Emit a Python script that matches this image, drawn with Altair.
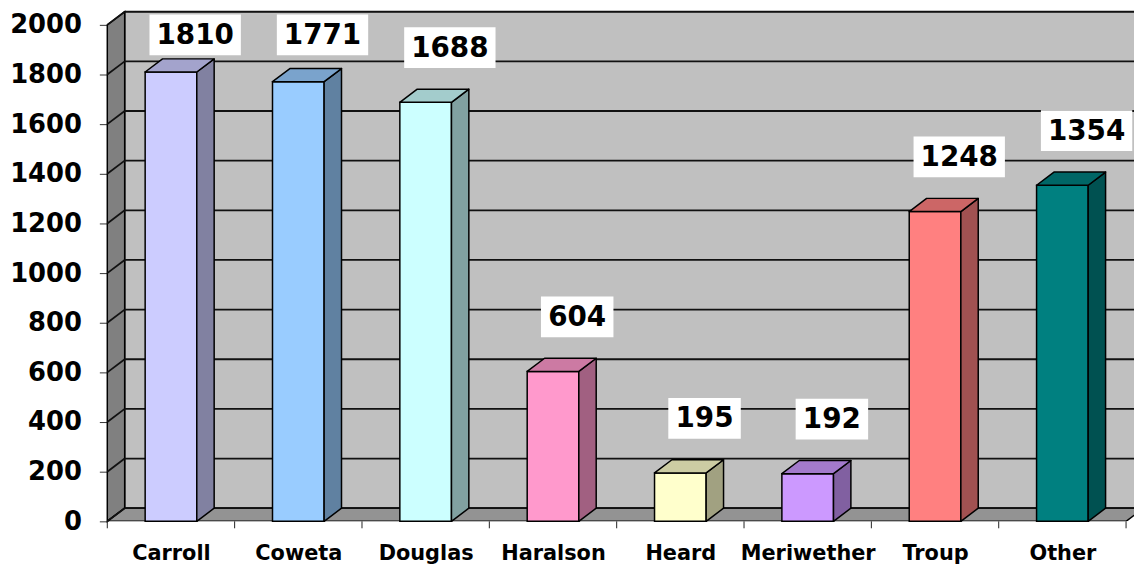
import altair as alt
import pandas as pd

categories = ["Carroll", "Coweta", "Douglas", "Haralson", "Heard", "Meriwether", "Troup", "Other"]
values = [1810, 1771, 1688, 604, 195, 192, 1248, 1354]
front_colors = ["#CCCCFF", "#99CCFF", "#CCFFFF", "#FF99CC", "#FFFFCC", "#CC99FF", "#FF8080", "#008080"]
y_ticks = list(range(0, 2001, 200))

# geometry (in scale units)
W = 0.2027          # half width of bar front face
DX = 0.1365         # 3D depth, horizontal (category units)
DY = 53             # 3D depth, vertical (value units)
XMAX = 1034 / 128.25
YMAX = 2060
N = len(categories)
FONT = "DejaVu Sans"


def shade(hexc, f):
    r, g, b = (int(hexc[i:i + 2], 16) for i in (1, 3, 5))
    return "#%02x%02x%02x" % (round(r * f), round(g * f), round(b * f))


xs = alt.Scale(domain=[0, XMAX], nice=False, zero=False)
ys = alt.Scale(domain=[0, YMAX], nice=False, zero=False)

bars = pd.DataFrame({
    "cat": categories,
    "value": values,
    "idx": list(range(N)),
    "front": front_colors,
})
bars["x0"] = bars["idx"] + 0.5 - W
bars["x1"] = bars["idx"] + 0.5 + W

side_rows, top_rows = [], []
for c, v, fc, x0, x1 in zip(categories, values, front_colors, bars["x0"], bars["x1"]):
    sc = shade(fc, 0.63)
    tc = shade(fc, 0.8)
    side_rows += [dict(cat=c, col=sc, x=x1, y=0, y2=v),
                  dict(cat=c, col=sc, x=x1 + DX, y=DY, y2=v + DY)]
    top_rows += [dict(cat=c, col=tc, y=v, x=x0, x2=x1),
                 dict(cat=c, col=tc, y=v + DY, x=x0 + DX, x2=x1 + DX)]
side_df = pd.DataFrame(side_rows)
top_df = pd.DataFrame(top_rows)

back_df = pd.DataFrame({"x": [DX], "x2": [N + DX], "y": [DY], "y2": [2000 + DY]})
left_df = pd.DataFrame({"x": [0, DX], "y": [0, DY], "y2": [2000, 2000 + DY]})
floor_df = pd.DataFrame({"y": [0, DY], "x": [0, DX], "x2": [N, N + DX]})
grid_df = pd.DataFrame({"v": y_ticks})
grid_df["yb"] = grid_df["v"] + DY
grid_df["xb"] = DX
grid_df["xe"] = N + DX
diag_rows = []
for v in y_ticks:
    diag_rows += [dict(v=v, x=0, y=v), dict(v=v, x=DX, y=v + DY)]
diag_df = pd.DataFrame(diag_rows)
cat_edges = pd.DataFrame({"k": list(range(N + 1))})

label_expr = "[" + ",".join("'%s'" % c for c in categories) + "][floor(datum.value)]"

x_axis = alt.Axis(values=[i + 0.5 for i in range(N)], labelExpr=label_expr, ticks=False,
                  domain=False, grid=False, labelFont=FONT,
                  labelFontSize=21, labelFontWeight="bold", labelColor="black",
                  labelPadding=21, labelFlush=False, labelOverlap=False, labelBound=False,
                  title=None)
y_axis = alt.Axis(values=y_ticks, format="d", tickSize=8, tickColor="#333333", domain=False,
                  grid=False, labelFont=FONT, labelFontSize=26, labelFontWeight="bold",
                  labelColor="black", labelPadding=18, labelOverlap=False, labelFlush=False,
                  title=None)


def X(f):
    return alt.X(f, scale=xs, axis=x_axis)


def Y(f):
    return alt.Y(f, scale=ys, axis=y_axis)


back = alt.Chart(back_df).mark_rect(fill="#C0C0C0", stroke="black", strokeWidth=1.5, clip=True).encode(
    x=X("x:Q"), x2="x2:Q", y=Y("y:Q"), y2="y2:Q")

left = alt.Chart(left_df).mark_area(fill="#808080", stroke="black", strokeWidth=1.5).encode(
    x=X("x:Q"), y=Y("y:Q"), y2="y2:Q")

floor = alt.Chart(floor_df).mark_area(orient="horizontal", fill="#939393", stroke="black",
                                      strokeWidth=1.5, clip=True).encode(
    y=Y("y:Q"), x=X("x:Q"), x2="x2:Q")

grid_back = alt.Chart(grid_df).mark_rule(color="#111111", strokeWidth=1.8, clip=True).encode(
    x=X("xb:Q"), x2="xe:Q", y=Y("yb:Q"))

grid_left = alt.Chart(diag_df).mark_line(color="#111111", strokeWidth=1.8).encode(
    x=X("x:Q"), y=Y("y:Q"), detail="v:N")

cat_ticks = alt.Chart(cat_edges).mark_rule(color="#222222", strokeWidth=1).encode(
    x=X("k:Q"), y=alt.value(515), y2=alt.value(522))

front = alt.Chart(bars).mark_rect(stroke="black", strokeWidth=1.5).encode(
    x=X("x0:Q"), x2="x1:Q", y=Y("value:Q"), y2=alt.datum(0),
    fill=alt.Fill("front:N", scale=None))

side = alt.Chart(side_df).mark_area(stroke="black", strokeWidth=1.5, strokeJoin="round").encode(
    x=X("x:Q"), y=Y("y:Q"), y2="y2:Q",
    fill=alt.Fill("col:N", scale=None), detail="cat:N")

top = alt.Chart(top_df).mark_area(orient="horizontal", stroke="black", strokeWidth=1.5,
                                  strokeJoin="round").encode(
    y=Y("y:Q"), x=X("x:Q"), x2="x2:Q",
    fill=alt.Fill("col:N", scale=None), detail="cat:N")

lab_base = alt.Chart(bars).transform_calculate(
    lx="datum.idx + 0.5 + 0.19",
    ly="min(datum.value + 220, 1960)")

box4 = lab_base.transform_filter("datum.value >= 1000").mark_rect(
    width=92, height=41, fill="white").encode(x=X("lx:Q"), y=Y("ly:Q"))
box3 = lab_base.transform_filter("datum.value < 1000").mark_rect(
    width=73, height=41, fill="white").encode(x=X("lx:Q"), y=Y("ly:Q"))
texts = lab_base.mark_text(font=FONT, fontSize=28, fontWeight="bold", color="black",
                           align="center", baseline="middle", dy=1).encode(
    x=X("lx:Q"), y=Y("ly:Q"), text="value:Q")

chart = alt.layer(back, left, floor, grid_back, grid_left, cat_ticks, front, side, top,
                  box4, box3, texts).properties(
    width=1034, height=515,
    autosize=alt.AutoSizeParams(type="none"),
    padding={"left": 100, "top": 0, "right": 0, "bottom": 43},
    background="white",
).configure_view(stroke=None)

chart.save("out.html", embed_options={"renderer": "svg", "actions": False})
